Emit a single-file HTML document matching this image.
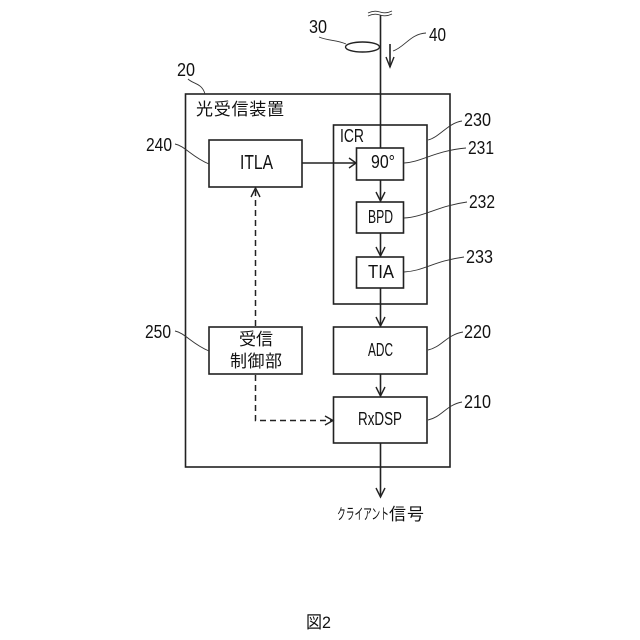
<!DOCTYPE html>
<html><head><meta charset="utf-8"><style>
html,body{margin:0;padding:0;background:#fff}
svg{display:block}
text{font-family:"Liberation Sans","Noto Sans CJK JP",sans-serif;fill:#111}
.b{fill:none;stroke:#222;stroke-width:1.6}
.l{fill:none;stroke:#222;stroke-width:1.6}
.t{fill:none;stroke:#333;stroke-width:.9}
.a{fill:none;stroke:#222;stroke-width:1.4}
.d{fill:none;stroke:#222;stroke-width:1.5;stroke-dasharray:6 4}
</style></head><body>
<svg width="640" height="640" viewBox="0 0 640 640" xmlns="http://www.w3.org/2000/svg">
<rect width="640" height="640" fill="#fff"/>
<rect class="b" x="185.500" y="94" width="264.500" height="373"/>
<rect class="b" x="333.500" y="125" width="93.500" height="179"/>
<rect class="b" x="356.500" y="148" width="47" height="32"/>
<rect class="b" x="356.500" y="202" width="47" height="31"/>
<rect class="b" x="356.500" y="257" width="47" height="31"/>
<rect class="b" x="333.500" y="327" width="93.500" height="47"/>
<rect class="b" x="333.500" y="397" width="93.500" height="46"/>
<rect class="b" x="209" y="140" width="93" height="47"/>
<rect class="b" x="209" y="327" width="93" height="47"/>

<path class="l" d="M380.500 15V148M380.500 180V201M380.500 233V256M380.500 288V326M380.500 374V396M380.500 443V497M302 163H356"/>
<path class="t" d="M368 13q6-3 12-1t12-1M368 16q6-3 12-1t12-1"/>
<ellipse cx="362.500" cy="47" rx="17" ry="5" fill="#fff" stroke="#222" stroke-width="1.400"/>
<path class="l" d="M390 44V67"/>
<path class="a" d="M386 57l4 10 4-10"/>
<path class="a" d="M349 158l7 5-7 5M376 192l4.500 9 4.500-9M376 247l4.500 9 4.500-9M376 317l4.500 9 4.500-9M376 387l4.500 9 4.500-9M376 488l4.500 9 4.500-9"/>

<path class="d" d="M255.500 326V190"/>
<path class="a" d="M251 197l4.500-9 4.500 9"/>
<path class="d" d="M255.500 375V420.500H332"/>
<path class="a" d="M325 416l8 4.500-8 4.500"/>

<path class="t" d="M319 37c10 4 18 3 27 7"/>
<path class="t" d="M393 51c12-4 17-17 33-18"/>
<path class="t" d="M188 79c5 5 14 4 17 15"/>
<path class="t" d="M175 144c10 2 17 13 34 20"/>
<path class="t" d="M175 331c10 2 17 13 34 20"/>
<path class="t" d="M428 140c12-3 20-17 34-19"/>
<path class="t" d="M404 163c18-1 30-12 62-15"/>
<path class="t" d="M404 218c20-1 34-12 63-16"/>
<path class="t" d="M404 272c20-1 30-11 60-15"/>
<path class="t" d="M428 350c14-3 18-15 35-18"/>
<path class="t" d="M428 420c14-3 18-15 34-18"/>

<g font-size="18">
<text x="309" y="33" textLength="18" lengthAdjust="spacingAndGlyphs">30</text>
<text x="429" y="41" textLength="17" lengthAdjust="spacingAndGlyphs">40</text>
<text x="177" y="76" textLength="18" lengthAdjust="spacingAndGlyphs">20</text>
<text x="146" y="151" textLength="26" lengthAdjust="spacingAndGlyphs">240</text>
<text x="145" y="338" textLength="26" lengthAdjust="spacingAndGlyphs">250</text>
<text x="464" y="126" textLength="27" lengthAdjust="spacingAndGlyphs">230</text>
<text x="468" y="154" textLength="26" lengthAdjust="spacingAndGlyphs">231</text>
<text x="469" y="208" textLength="26" lengthAdjust="spacingAndGlyphs">232</text>
<text x="466" y="263" textLength="27" lengthAdjust="spacingAndGlyphs">233</text>
<text x="464" y="338" textLength="27" lengthAdjust="spacingAndGlyphs">220</text>
<text x="464" y="408" textLength="27" lengthAdjust="spacingAndGlyphs">210</text>
</g>

<text x="196" y="115" font-size="17" textLength="88" lengthAdjust="spacing">光受信装置</text>
<text x="240" y="169" font-size="20" textLength="33" lengthAdjust="spacingAndGlyphs">ITLA</text>
<g font-size="18">
<text x="340" y="142" textLength="24" lengthAdjust="spacingAndGlyphs">ICR</text>
<text x="371" y="168" textLength="24" lengthAdjust="spacingAndGlyphs">90°</text>
<text x="368" y="223" textLength="25" lengthAdjust="spacingAndGlyphs">BPD</text>
<text x="368" y="278" textLength="26" lengthAdjust="spacingAndGlyphs">TIA</text>
<text x="368" y="356" textLength="25" lengthAdjust="spacingAndGlyphs">ADC</text>
<text x="358" y="425" textLength="44" lengthAdjust="spacingAndGlyphs">RxDSP</text>
</g>
<text x="239" y="345" font-size="17" textLength="34" lengthAdjust="spacing">受信</text>
<text x="230" y="367" font-size="17" textLength="52" lengthAdjust="spacing">制御部</text>
<text x="337" y="519" font-size="15" textLength="52" lengthAdjust="spacingAndGlyphs">クライアント</text>
<text x="389" y="520" font-size="17" textLength="35" lengthAdjust="spacing">信号</text>
<text x="306" y="628" font-size="17" textLength="25" lengthAdjust="spacingAndGlyphs">図2</text>
</svg>
</body></html>
